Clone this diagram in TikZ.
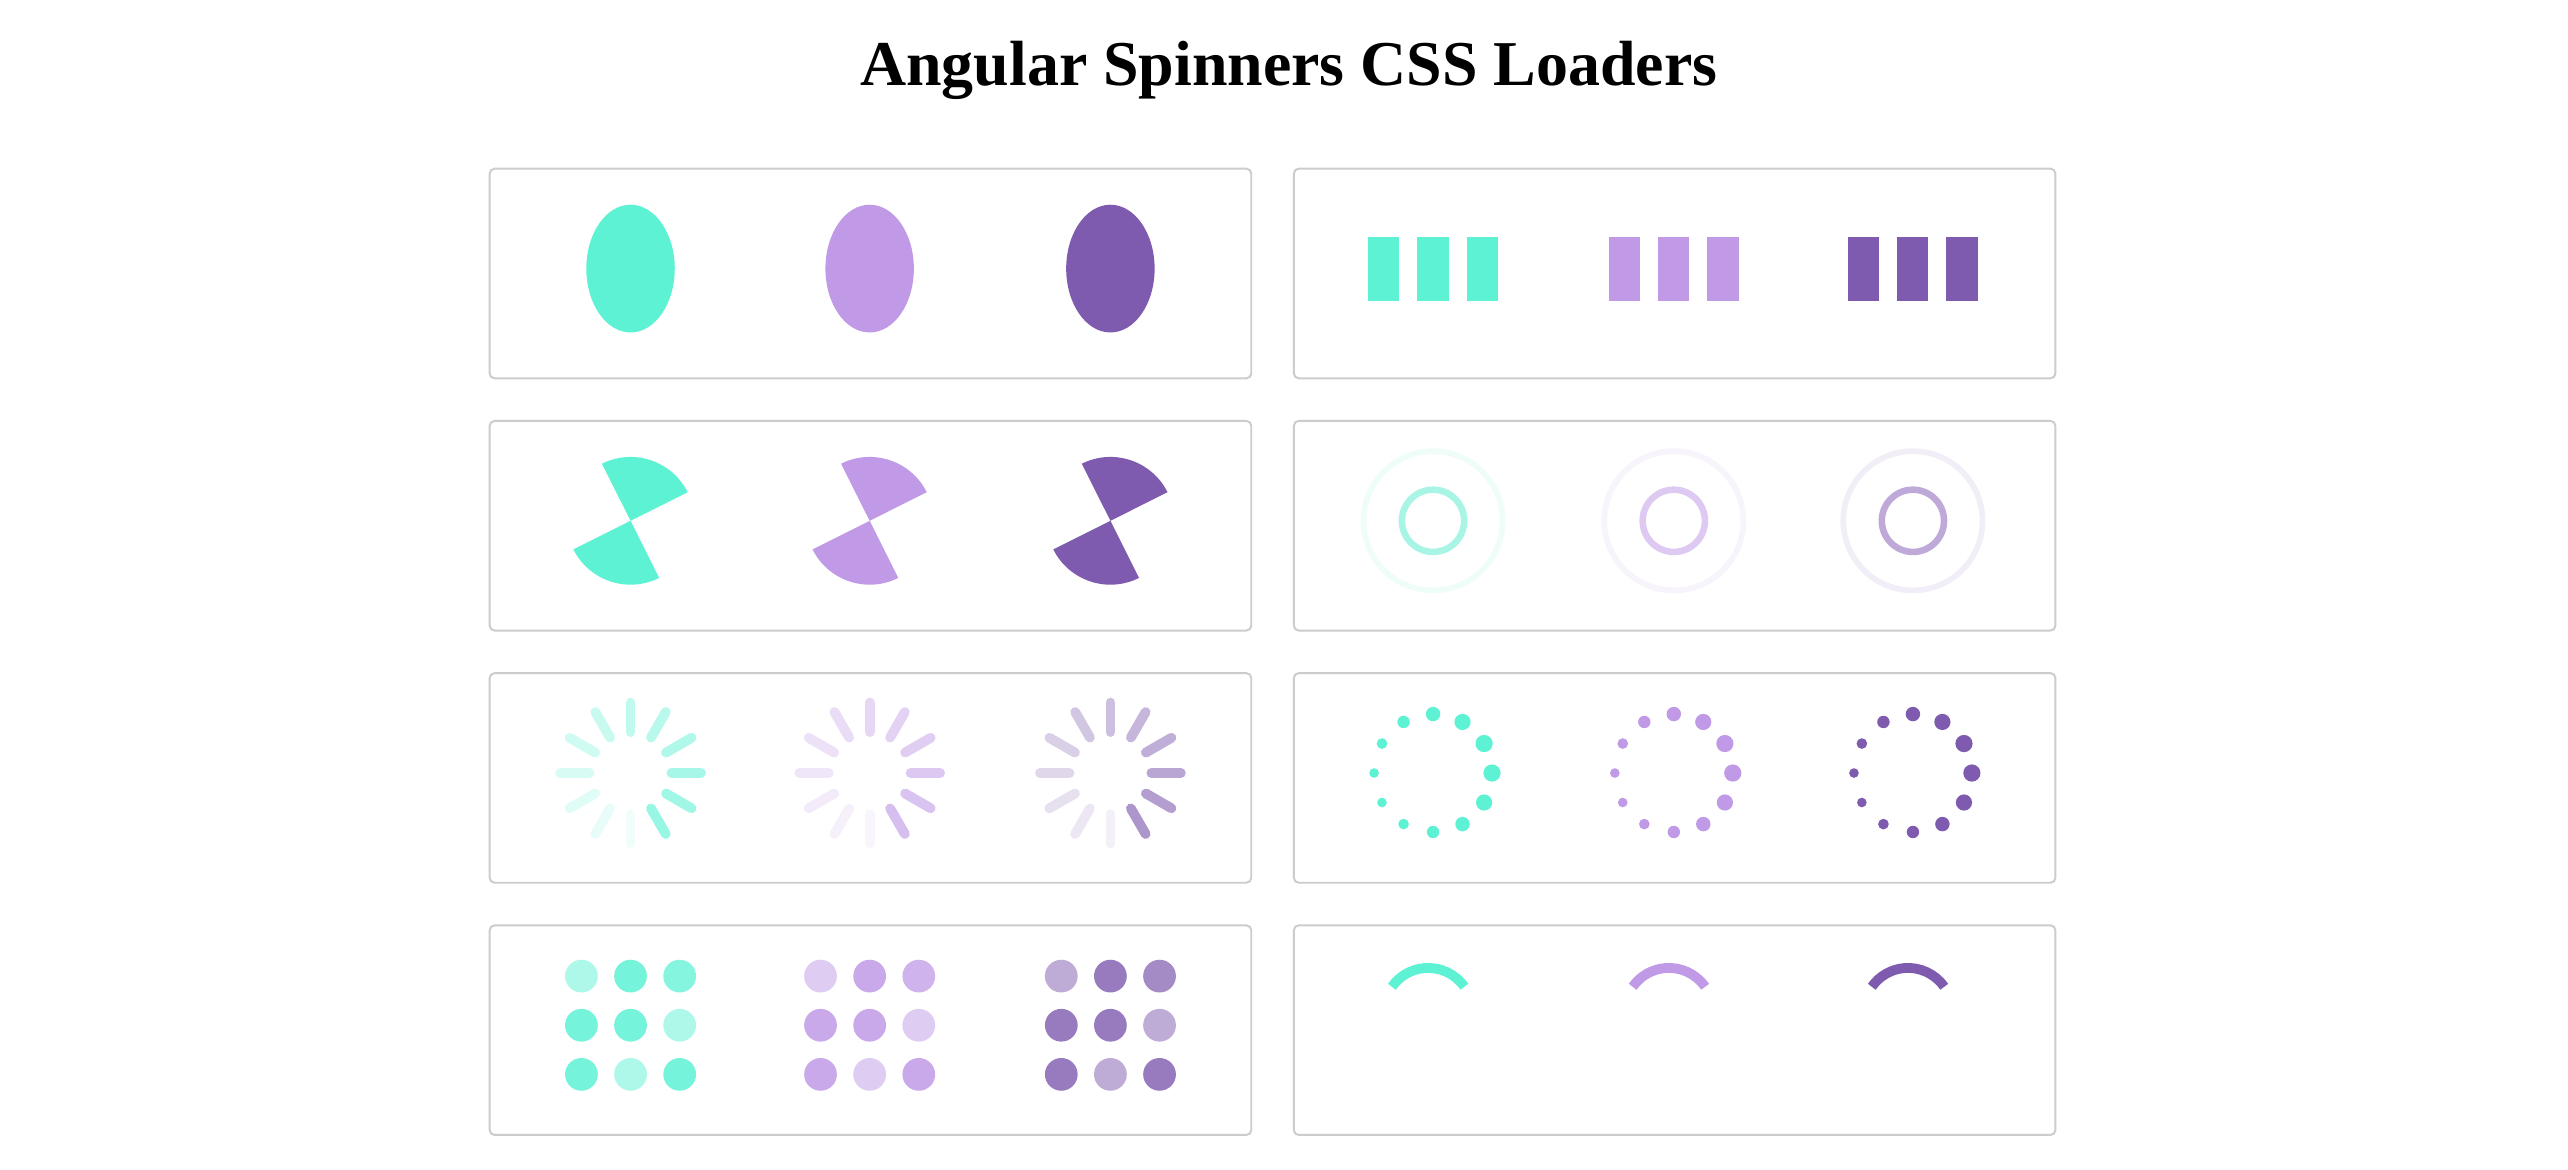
\documentclass[tikz,border=0pt]{standalone}
\usepackage{fontspec}
\setmainfont{Liberation Serif}
\definecolor{teal}{HTML}{5EF2D5}
\definecolor{lpur}{HTML}{C09AE6}
\definecolor{dpur}{HTML}{7E5BAE}
\definecolor{frame}{HTML}{CCCCCC}
\begin{document}
\begin{tikzpicture}[x=1pt,y=-1pt,
  card/.style={draw=frame,line width=1.2pt,rounded corners=3pt,fill=white}]
\useasboundingbox (0,0) rectangle (1568,714);
\fill[white] (0,0) rectangle (1568,714);
\node[font=\bfseries\fontsize{39}{44}\selectfont] (title) at (787,43) {Angular Spinners CSS Loaders};
% cards
\foreach \y in {103,257,411,565}{
  \draw[card] (299,\y) rectangle (764,\y+128);
  \draw[card] (790,\y) rectangle (1255,\y+128);
}
% row 1 left: ellipses
\foreach \x/\c in {385/teal,531/lpur,678/dpur}{
  \fill[\c] (\x,164) ellipse [x radius=27,y radius=39];
}
% row 1 right: bars
\foreach \x/\c in {875/teal,1022/lpur,1168/dpur}{
  \foreach \d in {-30,0,30}{
    \fill[\c] (\x+\d-9.5,145) rectangle (\x+\d+9.5,184);
  }
}
% row 2 left: wedges
\foreach \x/\c in {385/teal,531/lpur,678/dpur}{
  \fill[\c] (\x,318) -- ++(-26.6:39) arc[start angle=-26.6,end angle=-116.6,radius=39] -- cycle;
  \fill[\c] (\x,318) -- ++(-206.6:39) arc[start angle=-206.6,end angle=-296.6,radius=39] -- cycle;
}
% row 2 right: rings
\foreach \x/\o/\i in {875/EFFDF9/A8F5E5,1022/F7F4FC/DDC9F2,1168/F2EEF7/BEA9D8}{
  \definecolor{oc}{HTML}{\o}\definecolor{ic}{HTML}{\i}
  \draw[oc,line width=3.5pt] (\x,318) circle[radius=42.5];
  \draw[ic,line width=4pt] (\x,318) circle[radius=19];
}
% row 3 left: spokes
\foreach \x/\c in {385/teal,531/lpur,678/dpur}{
  \foreach \k in {0,...,11}{
    \pgfmathsetmacro{\ang}{-60+30*\k}
    \pgfmathsetmacro{\op}{0.6*(1-\k/12)+0.04}
    \draw[\c,line width=6pt,line cap=round,opacity=\op]
      (\x,472) ++(-\ang:25) -- ++(-\ang:18);
  }
}
% row 3 right: dots
\foreach \x/\c in {875/teal,1022/lpur,1168/dpur}{
  \foreach \k in {0,...,11}{
    \pgfmathsetmacro{\ang}{30*\k}
    \pgfmathsetmacro{\r}{2.9+1.2*(1+cos(\ang-15))}
    \fill[\c] (\x,472) ++(-\ang:36) circle[radius=\r];
  }
}
% row 4 left: grids
\foreach \x/\c/\a/\b/\e in {385/teal/0.5/0.85/0.75,531/lpur/0.5/0.85/0.75,678/dpur/0.5/0.8/0.7}{
  \foreach \i/\j/\o in {0/0/\a,1/0/\b,2/0/\e,0/1/\b,1/1/\b,2/1/\a,0/2/\b,1/2/\a,2/2/\b}{
    \fill[\c,opacity=\o] (\x-30+30*\i,596+30*\j) circle[radius=10];
  }
}
% row 4 right: arcs
\foreach \x/\c in {872/teal,1019/lpur,1165/dpur}{
  \draw[\c,line width=6pt] (\x,618) ++(-35:27) arc[start angle=-35,end angle=-145,radius=27];
}
\end{tikzpicture}
\end{document}
